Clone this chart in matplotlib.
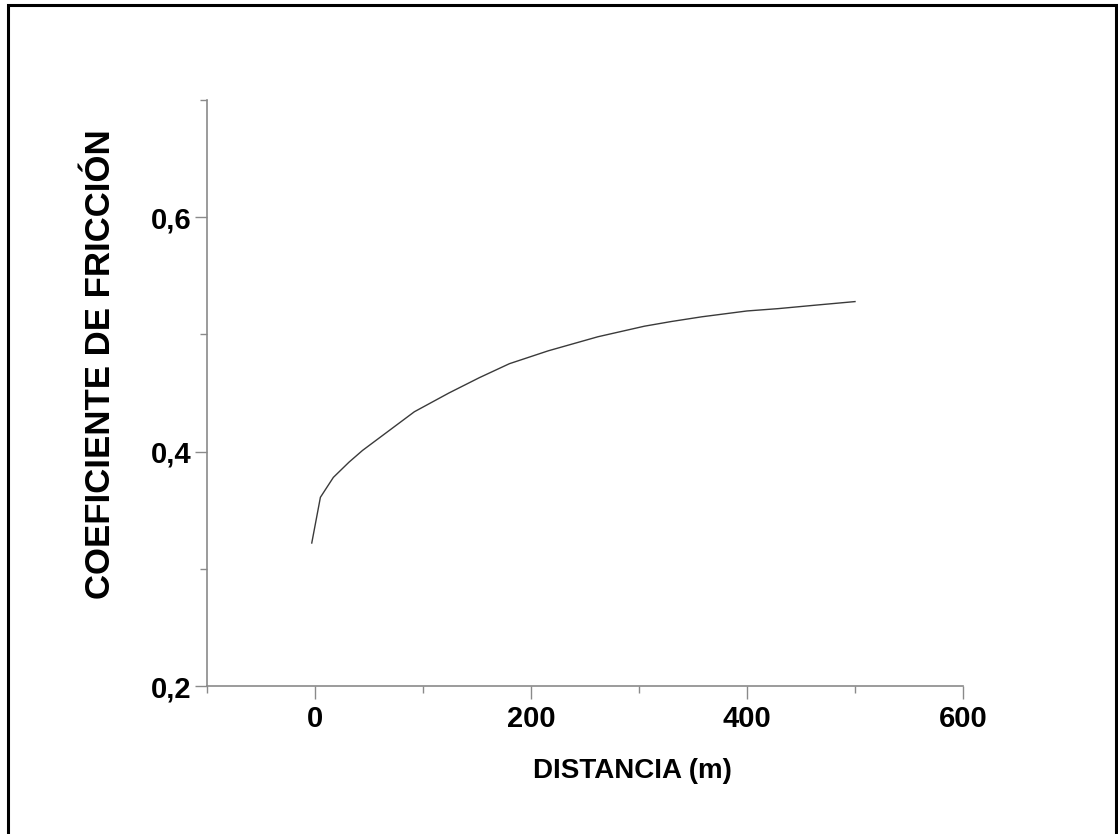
import matplotlib
matplotlib.use("Agg")
import matplotlib.pyplot as plt
from matplotlib.patches import Rectangle
from matplotlib.ticker import MultipleLocator, FixedLocator

# datos
distancia = [-3, 5, 17, 31.5, 44, 60, 92, 124, 152, 180, 216, 262, 305, 330,
             358, 400, 429, 464, 500]
coef_friccion = [0.322, 0.361, 0.378, 0.391, 0.401, 0.412, 0.434, 0.450, 0.463,
                 0.475, 0.486, 0.498, 0.507, 0.511, 0.515, 0.520, 0.522, 0.525, 0.528]

xticks = [0, 200, 400, 600]
yticks = [0.2, 0.4, 0.6]
ytick_labels = ["0,2", "0,4", "0,6"]

plt.rcParams['font.family'] = ['Liberation Sans', 'DejaVu Sans']

W, H = 1118, 834
fig = plt.figure(figsize=(W / 100, H / 100), dpi=100)
ax = fig.add_axes([207 / W, 1 - 686 / H, (963 - 207) / W, (686 - 100) / H])

gris = "#8a8a8a"
ax.plot(distancia, coef_friccion, color="#3a3a3a", lw=1.0)

ax.set_xlim(-100, 600)
ax.set_ylim(0.2, 0.7)
ax.xaxis.set_major_locator(FixedLocator(xticks))
ax.xaxis.set_minor_locator(MultipleLocator(100))
ax.yaxis.set_major_locator(FixedLocator(yticks))
ax.yaxis.set_minor_locator(MultipleLocator(0.1))
ax.set_yticklabels(ytick_labels)

for s in ["top", "right"]:
    ax.spines[s].set_visible(False)
for s in ["left", "bottom"]:
    ax.spines[s].set_color(gris)
    ax.spines[s].set_linewidth(1.2)

ax.tick_params(axis="both", which="major", color=gris, width=1.0, length=9,
               labelsize=21, pad=2)
ax.tick_params(axis="both", which="minor", color=gris, width=1.0, length=5)
for lab in ax.get_xticklabels() + ax.get_yticklabels():
    lab.set_fontweight("bold")
ax.tick_params(axis="x", which="major", pad=5)

fig.text(632 / W, 1 - 771 / H, "DISTANCIA (m)", ha="center", va="center",
         fontsize=20, fontweight="bold")
fig.text(101 / W, 1 - 364 / H, "COEFICIENTE DE FRICCIÓN", ha="center", va="center",
         rotation=90, fontsize=25, fontweight="bold")

# marco exterior
marco = Rectangle((8 / W, -0.05), (1116 - 8) / W, 1.05 - 5 / H,
                  transform=fig.transFigure, fill=False, edgecolor="black",
                  linewidth=2.2, clip_on=False)
fig.patches.append(marco)

fig.savefig("out.png", dpi=100)
